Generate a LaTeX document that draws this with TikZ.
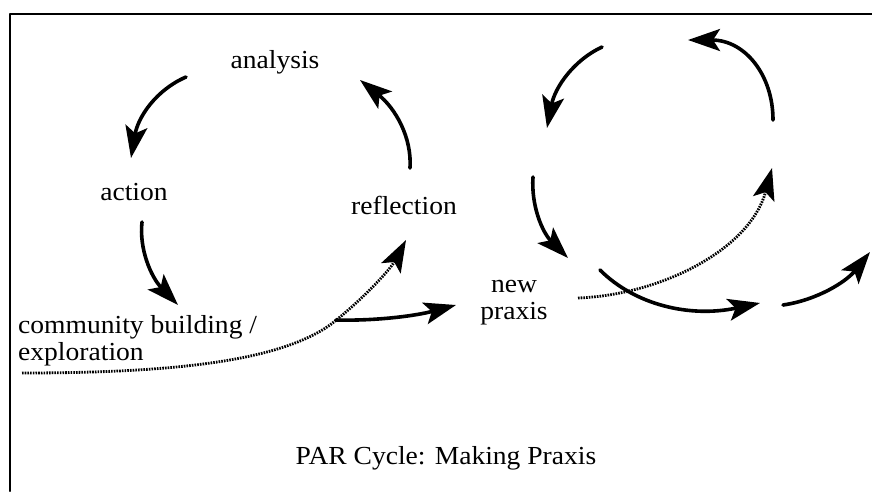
\documentclass[tikz,border=0pt]{standalone}
\usepackage{fontspec}
\setmainfont{Liberation Serif}[FakeStretch=1.06]
\usetikzlibrary{arrows.meta}
\begin{document}
\begin{tikzpicture}[x=1pt,y=-1pt,line join=round,line cap=round,font=\fontsize{26}{27}\selectfont,
	cyc/.style={line width=3.6pt,-{Stealth[length=32pt,width=22pt,inset=7pt]}},
	hint/.style={line width=2.8pt,line cap=butt,dash pattern=on 1.6pt off 1.1pt,-{Stealth[length=32pt,width=22pt,inset=7pt]}},
	lbl/.style={inner sep=0pt}]
	\useasboundingbox (0,0) rectangle (872,491);
	\draw[line width=2pt] (10,491)--(10,14)--(872,14);
	% labels
	\node[lbl] (analysis) at (275,62) {analysis};
	\node[lbl] (action) at (134,192) {action};
	\node[lbl] (reflection) at (404,205) {reflection};
	\node[lbl,anchor=west,align=left] (community) at (18,341) {community building /\\exploration};
	\node[lbl,align=center] (praxis) at (514,303) {new\\praxis};
	\node[lbl] (title) at (446,458) {PAR Cycle: Making Praxis};
	% end points of the arrows
	\path
	(186,77) coordinate (A1) (131,158) coordinate (A2)
	(142,222) coordinate (B1) (178,305) coordinate (B2)
	(410,168) coordinate (C1) (360,80) coordinate (C2)
	(22,373) coordinate (D1) (330,325) coordinate (D2) (406,240) coordinate (D3)
	(336,320) coordinate (E1) (456,305) coordinate (E2)
	(602,47) coordinate (F1) (547,128) coordinate (F2)
	(773,120) coordinate (G1) (688,40) coordinate (G2)
	(533,177) coordinate (H1) (568,258) coordinate (H2)
	(578,298) coordinate (I1) (772,168) coordinate (I2)
	(600,270) coordinate (J1) (760,303) coordinate (J2)
	(783,305) coordinate (K1) (870,252) coordinate (K2)
	;
	% first cycle
	\draw[cyc] (A1) .. controls (156,90) and (138,117) .. (A2);
	\draw[cyc] (B1) .. controls (139,249) and (151,277) .. (B2);
	\draw[cyc] (C1) .. controls (412,137) and (395,108) .. (C2);
	\draw[hint] (D1) .. controls (180,373) and (280,360) .. (D2) .. controls (360,302) and (390,270) .. (D3);
	\draw[cyc] (E1) .. controls (375,321) and (415,316) .. (E2);
	% second cycle
	\draw[cyc] (F1) .. controls (574,60) and (555,87) .. (F2);
	\draw[cyc] (G1) .. controls (773,75) and (745,40) .. (G2);
	\draw[cyc] (H1) .. controls (531,205) and (542,232) .. (H2);
	\draw[hint] (I1) .. controls (660,295) and (750,250) .. (I2);
	\draw[cyc] (J1) .. controls (635,305) and (690,318) .. (J2);
	\draw[cyc] (K1) .. controls (817,300) and (846,282) .. (K2);
\end{tikzpicture}
\end{document}
